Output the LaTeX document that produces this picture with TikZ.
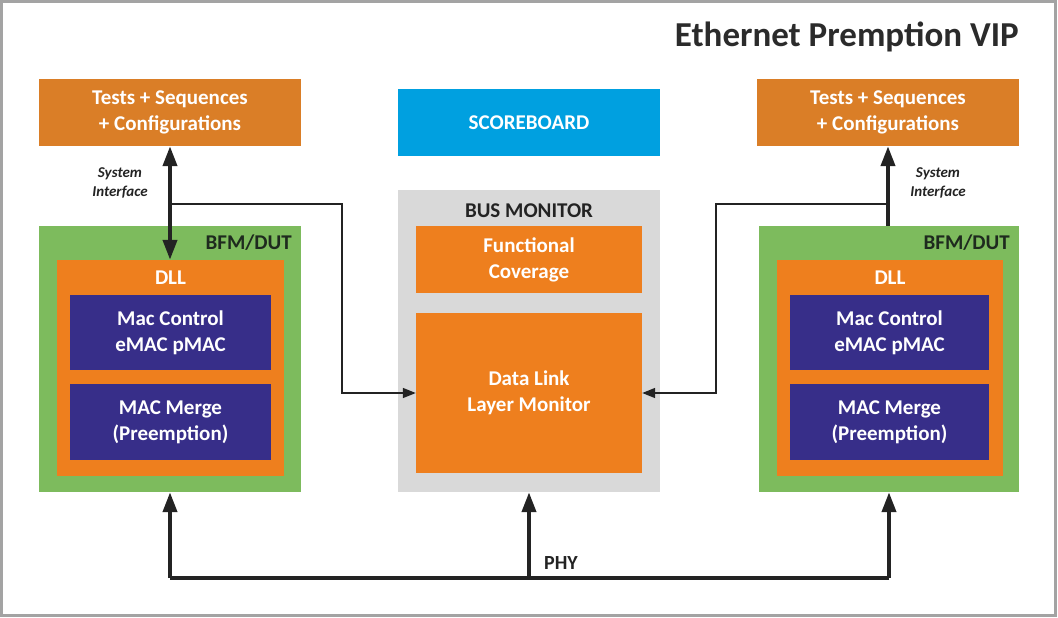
\documentclass[tikz,border=0pt]{standalone}
\usepackage{fontspec}
\setmainfont{Carlito}
\usetikzlibrary{arrows.meta}
\definecolor{tOrange}{HTML}{DA7E27}
\definecolor{bOrange}{HTML}{EE7F1E}
\definecolor{bGreen}{HTML}{7DBB5D}
\definecolor{bNavy}{HTML}{372E89}
\definecolor{bBlue}{HTML}{00A0E0}
\definecolor{bGray}{HTML}{D9D9D9}
\definecolor{lineC}{HTML}{232323}
\definecolor{frameC}{HTML}{A3A3A3}
\definecolor{darkTxt}{HTML}{1E2A1E}
\definecolor{titleTxt}{HTML}{2B2B2B}
\tikzset{
  blk/.style={draw=none, inner sep=0pt, align=center, font=\bfseries\fontsize{21}{26}\selectfont, text=white},
  lbl/.style={inner sep=0pt, font=\bfseries\fontsize{21}{22}\selectfont},
  sysif/.style={inner sep=0pt, align=center, font=\bfseries\itshape\fontsize{15}{19}\selectfont, text=lineC},
  bigarrow/.style={draw=lineC, line width=4pt, -{Triangle[width=14pt,length=20pt]}},
  bigline/.style={draw=lineC, line width=4pt},
  thinarrow/.style={draw=lineC, line width=1.4pt, -{Triangle[width=10pt,length=13pt]}}
}
\begin{document}
\begin{tikzpicture}[x=1pt,y=-1pt]
\useasboundingbox (0,0) rectangle (1058,618);
\draw[frameC, line width=2.5pt] (1.5,1.5) rectangle (1055.5,615.5);

\node[anchor=east, inner sep=0pt, text=titleTxt, font=\bfseries\fontsize{35}{38}\selectfont] (title) at (1019,37) {Ethernet Premption VIP};

% top boxes
\node[blk, fill=tOrange, minimum width=262pt, minimum height=67pt] (tl) at (170,112.5) {Tests + Sequences\\+ Configurations};
\node[blk, fill=tOrange, minimum width=262pt, minimum height=67pt] (tr) at (888,112.5) {Tests + Sequences\\+ Configurations};
\node[blk, fill=bBlue, minimum width=262pt, minimum height=67pt] (sb) at (529,122.5) {SCOREBOARD};

% bus monitor
\node[fill=bGray, minimum width=262pt, minimum height=302pt, inner sep=0pt] (bm) at (529,341) {};
\node[lbl, text=lineC] (bmt) at (529,211) {BUS MONITOR};
\node[blk, fill=bOrange, minimum width=226pt, minimum height=67pt] (fc) at (529,259.5) {Functional\\Coverage};
\node[blk, fill=bOrange, minimum width=226pt, minimum height=160pt] (dlm) at (529,393) {Data Link\\Layer Monitor};

% left BFM/DUT
\node[fill=bGreen, minimum width=262pt, minimum height=266pt, inner sep=0pt] (bfmL) at (170,359) {};
\node[lbl, anchor=east, text=darkTxt] (bfmLt) at (292,243) {BFM/DUT};
\node[fill=bOrange, minimum width=227pt, minimum height=216pt, inner sep=0pt] (dllL) at (170.5,368) {};
\node[lbl, text=white] (dllLt) at (170.5,278) {DLL};
\node[blk, fill=bNavy, minimum width=201pt, minimum height=75pt] (macL) at (170.5,332.5) {Mac Control\\eMAC pMAC};
\node[blk, fill=bNavy, minimum width=201pt, minimum height=76pt] (mrgL) at (170.5,422) {MAC Merge\\(Preemption)};

% right BFM/DUT
\node[fill=bGreen, minimum width=260pt, minimum height=266pt, inner sep=0pt] (bfmR) at (889,359) {};
\node[lbl, anchor=east, text=darkTxt] (bfmRt) at (1010,243) {BFM/DUT};
\node[fill=bOrange, minimum width=226pt, minimum height=216pt, inner sep=0pt] (dllR) at (890,368) {};
\node[lbl, text=white] (dllRt) at (890,278) {DLL};
\node[blk, fill=bNavy, minimum width=199pt, minimum height=75pt] (macR) at (889.5,332.5) {Mac Control\\eMAC pMAC};
\node[blk, fill=bNavy, minimum width=199pt, minimum height=76pt] (mrgR) at (889.5,422) {MAC Merge\\(Preemption)};

% system interface
\node[sysif] (siL) at (120,183) {System\\Interface};
\node[sysif] (siR) at (938,183) {System\\Interface};

\coordinate (jL) at (170,204);
\coordinate (jR) at (888,204);
\draw[thinarrow] (jL) -- (342,204) |- (dlm.west);
\draw[thinarrow] (jR) -- (716,204) |- (dlm.east);

\draw[bigarrow, {Triangle[width=14pt,length=20pt]}-{Triangle[width=14pt,length=20pt]}] (tl.south) -- (tl.south |- dllL.north);
\draw[bigarrow] (tr.south |- bfmR.north) -- (tr.south);

% PHY
\coordinate (phy) at (529,578);
\draw[bigline, line join=miter] (bfmL.south |- phy) -- (bfmR.south |- phy);
\draw[bigarrow] (bfmL.south |- phy) -- (bfmL.south);
\draw[bigarrow] (bfmR.south |- phy) -- (bfmR.south);
\draw[bigarrow] (phy) -- (bm.south);
\node[lbl, anchor=west, text=lineC, font=\bfseries\fontsize{20}{22}\selectfont] (phyt) at (544,563) {PHY};
\end{tikzpicture}
\end{document}
